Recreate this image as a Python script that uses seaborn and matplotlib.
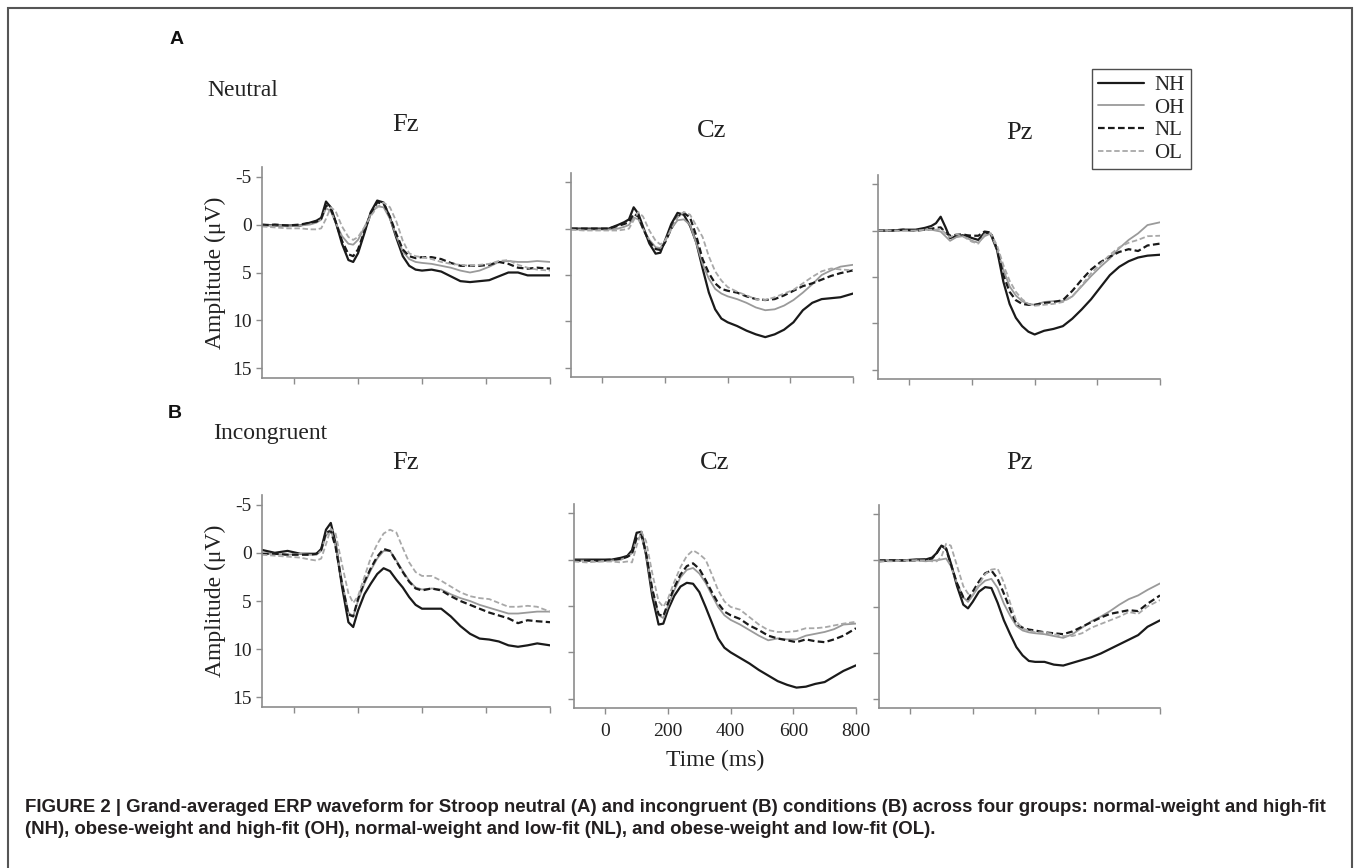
import numpy as np
import pandas as pd
import seaborn as sns
import matplotlib.pyplot as plt
from matplotlib.patches import Rectangle

# time axis shared by every waveform (ms)
TIME_MS = [-100, -60, -20, 20, 50, 70, 85, 100, 115, 130, 150, 170, 185, 200, 220, 240,
           260, 280, 300, 320, 340, 360, 380, 400, 430, 460, 490, 520, 550, 580, 610,
           640, 670, 700, 730, 760, 800]

GROUPS = ['NH', 'OH', 'NL', 'OL']
SITES = ['Fz', 'Cz', 'Pz']
CONDITIONS = ['Neutral', 'Incongruent']
Y_TICKS = [-5, 0, 5, 10, 15]
X_TICKS = [0, 200, 400, 600, 800]

# Neutral condition (uV, positive plotted downwards)
neutral_fz_nh = [0.0, 0.1, 0.1, 0.1, -0.2, -0.4, -0.7, -2.4, -1.8, -0.3, 2.0, 3.7, 3.9, 3.0, 0.9, -1.3, -2.5, -2.3, -0.7, 1.4, 3.3, 4.3, 4.7, 4.8, 4.7, 4.9, 5.4, 5.9, 6.0, 5.9, 5.8, 5.4, 5.0, 5.0, 5.3, 5.3, 5.3]
neutral_fz_oh = [0.1, 0.1, 0.2, 0.1, 0.0, -0.2, -0.5, -1.7, -1.4, -0.2, 1.2, 2.0, 2.1, 1.6, 0.3, -1.1, -1.9, -1.8, -0.6, 1.2, 2.8, 3.6, 3.9, 4.0, 4.1, 4.3, 4.5, 4.8, 5.0, 4.8, 4.4, 3.9, 3.8, 3.9, 3.9, 3.8, 3.9]
neutral_fz_nl = [0.1, 0.0, 0.1, 0.0, -0.2, -0.3, -0.6, -2.0, -1.6, -0.3, 1.7, 3.1, 3.3, 2.6, 0.7, -1.2, -2.3, -2.2, -0.8, 1.0, 2.6, 3.3, 3.5, 3.4, 3.4, 3.6, 4.0, 4.3, 4.3, 4.3, 4.2, 3.9, 4.1, 4.5, 4.6, 4.5, 4.6]
neutral_fz_ol = [0.2, 0.3, 0.4, 0.4, 0.5, 0.5, 0.4, -0.6, -1.8, -1.4, 0.2, 1.3, 1.6, 1.3, 0.3, -0.9, -1.8, -2.3, -1.8, -0.3, 1.7, 3.0, 3.3, 3.4, 3.6, 3.9, 4.1, 4.2, 4.3, 4.2, 4.1, 3.8, 3.7, 4.2, 4.5, 4.7, 4.8]

neutral_cz_nh = [0.0, 0.0, 0.0, 0.0, -0.4, -0.7, -1.0, -2.3, -1.6, -0.2, 1.6, 2.7, 2.6, 1.3, -0.5, -1.7, -1.5, -0.3, 1.5, 4.3, 6.9, 8.7, 9.7, 10.1, 10.5, 11.0, 11.4, 11.7, 11.4, 10.9, 10.1, 8.8, 8.0, 7.6, 7.5, 7.4, 7.0]
neutral_cz_oh = [0.1, 0.1, 0.1, 0.1, 0.0, -0.2, -0.4, -1.2, -1.0, 0.0, 1.2, 2.0, 2.1, 1.4, 0.0, -0.9, -1.0, -0.4, 1.6, 3.8, 5.4, 6.5, 7.0, 7.3, 7.6, 8.0, 8.5, 8.8, 8.7, 8.3, 7.7, 6.9, 6.0, 5.0, 4.5, 4.1, 3.9]
neutral_cz_nl = [0.0, 0.0, 0.0, 0.0, -0.3, -0.5, -0.7, -1.6, -1.3, 0.0, 1.4, 2.2, 2.3, 1.5, 0.0, -1.3, -1.7, -1.2, 0.8, 3.3, 4.8, 5.9, 6.5, 6.7, 6.9, 7.3, 7.6, 7.7, 7.6, 7.2, 6.7, 6.2, 5.9, 5.5, 5.1, 4.8, 4.5]
neutral_cz_ol = [0.1, 0.2, 0.2, 0.2, 0.2, 0.1, 0.0, -0.9, -1.8, -1.3, 0.2, 1.3, 1.7, 1.3, 0.1, -1.2, -1.8, -1.5, -0.3, 0.9, 3.0, 4.6, 5.6, 6.3, 6.8, 7.2, 7.6, 7.7, 7.4, 7.0, 6.6, 5.9, 5.2, 4.6, 4.3, 4.4, 4.5]

neutral_pz_nh = [0.0, 0.0, -0.1, -0.1, -0.3, -0.5, -0.8, -1.5, -0.4, 0.8, 0.6, 0.5, 0.6, 0.8, 1.0, 0.2, 0.4, 2.1, 5.5, 7.9, 9.4, 10.3, 10.9, 11.2, 10.8, 10.6, 10.3, 9.5, 8.5, 7.4, 6.1, 4.8, 3.9, 3.3, 2.9, 2.7, 2.6]
neutral_pz_oh = [0.0, 0.0, 0.0, 0.0, -0.1, -0.1, 0.0, 0.1, 0.6, 1.1, 0.7, 0.6, 0.8, 1.1, 1.3, 0.6, 0.3, 2.0, 4.2, 6.0, 7.0, 7.6, 7.9, 8.0, 7.7, 7.6, 7.6, 7.1, 6.0, 4.9, 3.9, 3.0, 1.9, 1.0, 0.3, -0.6, -0.9]
neutral_pz_nl = [0.0, 0.0, -0.1, 0.0, -0.1, -0.2, -0.3, -0.35, 0.2, 0.55, 0.45, 0.4, 0.5, 0.55, 0.55, 0.1, 0.2, 2.0, 4.8, 6.6, 7.5, 7.9, 8.0, 8.0, 7.8, 7.7, 7.5, 6.5, 5.3, 4.2, 3.4, 2.8, 2.3, 2.0, 2.2, 1.6, 1.4]
neutral_pz_ol = [0.0, 0.0, 0.0, 0.0, -0.1, -0.1, -0.1, -0.2, 0.3, 0.7, 0.4, 0.6, 0.9, 1.2, 1.4, 0.4, 0.3, 1.6, 3.7, 5.4, 6.6, 7.4, 7.9, 8.1, 8.0, 7.9, 7.7, 7.1, 5.9, 4.6, 3.6, 2.6, 1.8, 1.3, 1.0, 0.6, 0.55]

# Incongruent condition
incongruent_fz_nh = [-0.3, 0.0, -0.2, 0.1, 0.1, 0.1, -0.4, -2.4, -3.1, -1.0, 3.5, 7.2, 7.7, 6.0, 4.3, 3.2, 2.2, 1.6, 1.9, 2.8, 3.6, 4.6, 5.4, 5.8, 5.8, 5.8, 6.6, 7.6, 8.4, 8.9, 9.0, 9.2, 9.6, 9.75, 9.6, 9.4, 9.6]
incongruent_fz_oh = [0.1, 0.1, 0.2, 0.1, 0.2, 0.2, -0.2, -1.8, -2.3, -0.8, 3.0, 6.2, 6.6, 5.0, 3.2, 1.8, 0.6, -0.2, -0.2, 0.8, 1.9, 2.9, 3.6, 3.8, 3.7, 3.8, 4.3, 4.7, 5.0, 5.4, 5.7, 6.0, 6.3, 6.3, 6.2, 6.1, 6.1]
incongruent_fz_nl = [0.1, 0.1, 0.2, 0.2, 0.2, 0.1, -0.3, -2.1, -2.3, -0.6, 3.2, 6.4, 6.6, 4.8, 3.0, 1.6, 0.4, -0.4, -0.2, 0.9, 2.0, 3.0, 3.7, 3.9, 3.7, 3.9, 4.5, 5.0, 5.4, 5.8, 6.2, 6.5, 6.8, 7.3, 7.0, 7.1, 7.2]
incongruent_fz_ol = [0.2, 0.3, 0.4, 0.5, 0.7, 0.8, 0.6, -0.9, -2.5, -2.0, 1.2, 4.2, 5.2, 4.5, 2.5, 0.5, -0.9, -2.0, -2.4, -2.1, -0.5, 1.0, 2.0, 2.4, 2.4, 2.9, 3.5, 4.1, 4.5, 4.7, 4.8, 5.2, 5.6, 5.6, 5.5, 5.6, 6.1]

incongruent_cz_nh = [0.0, 0.0, 0.0, 0.0, -0.2, -0.4, -1.0, -2.9, -3.0, -0.5, 4.0, 7.0, 6.9, 5.4, 3.9, 2.9, 2.5, 2.6, 3.5, 5.1, 6.8, 8.5, 9.5, 10.0, 10.6, 11.2, 11.9, 12.5, 13.1, 13.5, 13.8, 13.7, 13.4, 13.2, 12.6, 12.0, 11.4]
incongruent_cz_oh = [0.1, 0.1, 0.2, 0.1, 0.0, -0.3, -0.7, -2.2, -2.5, -0.6, 3.4, 6.0, 6.3, 5.0, 3.3, 1.9, 1.1, 0.9, 1.5, 2.5, 3.8, 5.1, 6.0, 6.5, 7.0, 7.6, 8.2, 8.7, 8.5, 8.6, 8.6, 8.2, 8.0, 7.8, 7.5, 7.0, 6.9]
incongruent_cz_nl = [0.1, 0.1, 0.1, 0.0, -0.1, -0.3, -0.6, -2.4, -2.7, -0.7, 3.2, 5.9, 6.1, 4.7, 3.0, 1.6, 0.7, 0.4, 1.0, 2.2, 3.5, 4.7, 5.6, 6.0, 6.4, 7.1, 7.6, 8.2, 8.5, 8.7, 8.9, 8.6, 8.8, 8.9, 8.6, 8.2, 7.4]
incongruent_cz_ol = [0.2, 0.3, 0.2, 0.2, 0.3, 0.2, 0.3, -1.5, -3.0, -2.0, 1.5, 4.5, 5.1, 4.2, 2.4, 0.8, -0.4, -1.0, -0.6, 0.0, 1.6, 3.3, 4.5, 5.1, 5.4, 6.2, 7.0, 7.6, 7.8, 7.8, 7.7, 7.4, 7.4, 7.3, 7.1, 6.9, 6.7]

incongruent_pz_nh = [0.1, 0.0, 0.0, -0.1, -0.1, -0.3, -0.8, -1.6, -1.3, 0.3, 2.8, 4.8, 5.2, 4.5, 3.4, 2.9, 3.0, 4.6, 6.5, 8.0, 9.4, 10.3, 10.9, 11.0, 11.0, 11.3, 11.4, 11.1, 10.8, 10.5, 10.1, 9.6, 9.1, 8.6, 8.1, 7.2, 6.5]
incongruent_pz_oh = [0.0, 0.0, 0.0, 0.0, 0.1, 0.0, 0.0, -0.1, -0.2, 0.6, 2.5, 4.0, 4.5, 3.8, 2.8, 2.2, 2.0, 3.0, 4.7, 6.0, 7.1, 7.6, 7.8, 7.9, 8.0, 8.2, 8.4, 8.0, 7.3, 6.6, 6.1, 5.5, 4.8, 4.2, 3.8, 3.2, 2.5]
incongruent_pz_nl = [0.0, 0.0, 0.0, 0.0, -0.1, -0.2, -0.8, -1.6, -1.2, 0.4, 2.5, 4.0, 4.2, 3.4, 2.3, 1.4, 1.1, 2.0, 3.6, 5.3, 6.9, 7.3, 7.5, 7.6, 7.8, 7.9, 8.0, 7.7, 7.2, 6.7, 6.2, 5.8, 5.6, 5.4, 5.5, 4.7, 3.8]
incongruent_pz_ol = [0.1, 0.1, 0.0, 0.0, 0.0, 0.1, 0.1, -0.4, -1.8, -1.6, 0.6, 2.8, 3.6, 3.8, 2.6, 1.5, 1.0, 0.9, 2.4, 4.6, 6.6, 7.4, 7.6, 7.8, 7.8, 8.0, 8.2, 8.2, 7.9, 7.3, 6.9, 6.5, 6.1, 5.6, 5.8, 5.0, 4.3]

waves = {
    ('Neutral', 'Fz'): [neutral_fz_nh, neutral_fz_oh, neutral_fz_nl, neutral_fz_ol],
    ('Neutral', 'Cz'): [neutral_cz_nh, neutral_cz_oh, neutral_cz_nl, neutral_cz_ol],
    ('Neutral', 'Pz'): [neutral_pz_nh, neutral_pz_oh, neutral_pz_nl, neutral_pz_ol],
    ('Incongruent', 'Fz'): [incongruent_fz_nh, incongruent_fz_oh, incongruent_fz_nl, incongruent_fz_ol],
    ('Incongruent', 'Cz'): [incongruent_cz_nh, incongruent_cz_oh, incongruent_cz_nl, incongruent_cz_ol],
    ('Incongruent', 'Pz'): [incongruent_pz_nh, incongruent_pz_oh, incongruent_pz_nl, incongruent_pz_ol],
}

# line look per group
line_style = {
    'NH': dict(color='#1a1a1a', lw=1.6, ls='-'),
    'OH': dict(color='#9a9a9a', lw=1.3, ls='-'),
    'NL': dict(color='#1a1a1a', lw=1.6, ls=(0, (3, 1.5))),
    'OL': dict(color='#a8a8a8', lw=1.3, ls=(0, (3, 1.5))),
}

sns.set_style('ticks')
plt.rcParams['font.family'] = ['Liberation Serif', 'DejaVu Serif']
plt.rcParams['axes.unicode_minus'] = False

W, H = 1358, 868
fig = plt.figure(figsize=(W / 100, H / 100), dpi=100)

# axes boxes in pixels: left, top, right, bottom
boxes = {
    ('Neutral', 'Fz'): (262, 167, 550, 378),
    ('Neutral', 'Cz'): (571, 173, 853, 377),
    ('Neutral', 'Pz'): (878, 175, 1160, 379),
    ('Incongruent', 'Fz'): (262, 495, 550, 707),
    ('Incongruent', 'Cz'): (574, 504, 856, 708),
    ('Incongruent', 'Pz'): (879, 505, 1160, 708),
}
title_y = {
    ('Neutral', 'Fz'): 125, ('Neutral', 'Cz'): 131, ('Neutral', 'Pz'): 133,
    ('Incongruent', 'Fz'): 463, ('Incongruent', 'Cz'): 463, ('Incongruent', 'Pz'): 463,
}

axes = {}
for key, (l, t, r, b) in boxes.items():
    ax = fig.add_axes([l / W, 1 - b / H, (r - l) / W, (b - t) / H])
    df = pd.DataFrame({'time': TIME_MS * 4,
                       'amp': sum(waves[key], []),
                       'group': np.repeat(GROUPS, len(TIME_MS))})
    for g in GROUPS:
        st = line_style[g]
        sns.lineplot(data=df[df.group == g], x='time', y='amp', ax=ax,
                     color=st['color'], lw=st['lw'], linestyle=st['ls'], label=g)
    if ax.get_legend() is not None:
        ax.get_legend().remove()

    ax.set_xlim(-100, 800)
    ax.set_ylim(16, -6)
    ax.set_xticks(X_TICKS)
    ax.set_yticks(Y_TICKS)
    ax.set_xlabel('')
    ax.set_ylabel('')
    sns.despine(ax=ax)
    for sp in ['left', 'bottom']:
        ax.spines[sp].set_color('#8c8c8c')
        ax.spines[sp].set_linewidth(1.2)
    ax.tick_params(colors='#8c8c8c', length=4, width=1, labelcolor='#222222', labelsize=14)
    ax.tick_params(axis='x', pad=7)

    cond, site = key
    if site == 'Fz':
        ax.set_ylabel('Amplitude (μV)', fontsize=17, color='#222222', labelpad=4)
    else:
        ax.set_yticklabels([])
    if key == ('Incongruent', 'Cz'):
        ax.set_xlabel('Time (ms)', fontsize=17, color='#222222', labelpad=7)
    else:
        ax.set_xticklabels([])

    fig.text(((l + r) / 2) / W, 1 - title_y[key] / H, site, ha='center', va='center',
             fontsize=19, color='#222222')
    axes[key] = ax

# legend
handles, labels = axes[('Neutral', 'Fz')].get_legend_handles_labels()
fig.legend(handles, labels, loc='upper left', bbox_to_anchor=(1092 / W, 1 - 69 / H),
           frameon=True, fancybox=False, edgecolor='#222222', fontsize=15,
           handlelength=2.2, handletextpad=0.5, labelspacing=0.15,
           borderpad=0.3, borderaxespad=0)

# panel letters and condition names
fig.text(177 / W, 1 - 40 / H, 'A', ha='center', va='center', fontsize=14,
         fontweight='bold', family='Liberation Sans', color='#111111')
fig.text(175 / W, 1 - 413 / H, 'B', ha='center', va='center', fontsize=14,
         fontweight='bold', family='Liberation Sans', color='#111111')
fig.text(243 / W, 1 - 90 / H, 'Neutral', ha='center', va='center', fontsize=17, color='#222222')
fig.text(270 / W, 1 - 433 / H, 'Incongruent', ha='center', va='center', fontsize=17, color='#222222')

# caption
caption_1 = ('FIGURE 2 | Grand-averaged ERP waveform for Stroop neutral (A) and incongruent (B) '
             'conditions (B) across four groups: normal-weight and high-fit')
caption_2 = ('(NH), obese-weight and high-fit (OH), normal-weight and low-fit (NL), '
             'and obese-weight and low-fit (OL).')
fig.text(25 / W, 1 - 807 / H, caption_1, ha='left', va='center', fontsize=13.4,
         fontweight='bold', family='Liberation Sans', color='#231f20')
fig.text(25 / W, 1 - 830 / H, caption_2, ha='left', va='center', fontsize=13.4,
         fontweight='bold', family='Liberation Sans', color='#231f20')

# frame around the figure
fig.patches.append(Rectangle((8 / W, -0.05), (1352 - 8) / W, 1 - 8 / H + 0.05,
                             transform=fig.transFigure, fill=False,
                             edgecolor='#555555', lw=1.5))

fig.savefig('out.png', dpi=100)
